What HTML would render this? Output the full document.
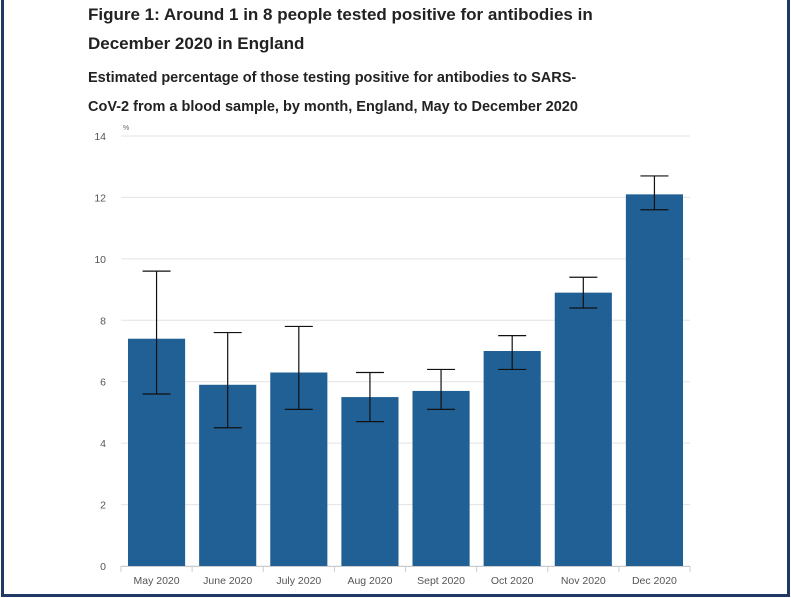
<!DOCTYPE html>
<html><head><meta charset="utf-8"><style>
body{margin:0;width:791px;height:598px;background:#fff;overflow:hidden;position:relative;font-family:"Liberation Sans","DejaVu Sans",sans-serif}
.frame{position:absolute;left:1px;top:-4px;width:783px;height:595px;border:3px solid #1f3864}
h1{position:absolute;left:88px;top:0;margin:0;font-size:17px;line-height:29px;font-weight:bold;color:#222;width:520px}
h2{position:absolute;left:88px;top:64px;margin:0;font-size:14.5px;line-height:29px;font-weight:bold;color:#222;width:512px}
</style></head><body>
<div class="frame"></div>
<h1>Figure 1: Around 1 in 8 people tested positive for antibodies in December 2020 in England</h1>
<h2>Estimated percentage of those testing positive for antibodies to SARS-CoV-2 from a blood sample, by month, England, May to December 2020</h2>
<svg id="c" width="791" height="598" style="position:absolute;left:0;top:0"></svg>
<script>
const categories=["May 2020","June 2020","July 2020","Aug 2020","Sept 2020","Oct 2020","Nov 2020","Dec 2020"];
const values=[7.4,5.9,6.3,5.5,5.7,7.0,8.9,12.1];
const lower=[5.6,4.5,5.1,4.7,5.1,6.4,8.4,11.6];
const upper=[9.6,7.6,7.8,6.3,6.4,7.5,9.4,12.7];
const yTicks=[0,2,4,6,8,10,12,14];
const svg=document.getElementById('c');
const NS='http://www.w3.org/2000/svg';
const x0=121,x1=690,y0=566,yTop=136,yMax=14;
const step=(x1-x0)/categories.length;
const y=v=>y0-(v/yMax)*(y0-yTop);
const xb=i=>x0+i*step;
function mk(t,a){const e=document.createElementNS(NS,t);for(const k in a)e.setAttribute(k,a[k]);svg.appendChild(e);return e;}
yTicks.forEach(t=>{
  const g=mk('line',{x1:x0,x2:x1,y1:y(t),y2:y(t),stroke:'#e3e3e3','stroke-width':1});
  
  
  const l=mk('text',{x:106,y:y(t)+4,'text-anchor':'end','font-size':10.5,fill:'#555'});
  l.textContent=t;
  
  
});
const u=mk('text',{x:123,y:130,'font-size':7,fill:'#666'});u.textContent='%';


categories.forEach((c,i)=>{
  const bx=xb(i)+7,bw=step-14,cx=xb(i)+step/2;
  const r=mk('rect',{x:bx,y:y(values[i]),width:bw,height:y0-y(values[i]),fill:'#206095'});
  
  
  const e=mk('path',{d:`M${cx-14},${y(upper[i])}H${cx+14}M${cx},${y(upper[i])}V${y(lower[i])}M${cx-14},${y(lower[i])}H${cx+14}`,stroke:'#111','stroke-width':1.2,fill:'none'});
  
  
  const t=mk('text',{x:cx,y:584,'text-anchor':'middle','font-size':10.5,fill:'#555'});
  t.textContent=c;
  
  
});
for(let i=0;i<=categories.length;i++){
  const tk=mk('line',{x1:xb(i),x2:xb(i),y1:y0,y2:y0+6,stroke:'#ccc'});
  
  
}
const ax=mk('line',{x1:x0,x2:x1,y1:y0+0.5,y2:y0+0.5,stroke:'#ccc'});


</script>
</body></html>
